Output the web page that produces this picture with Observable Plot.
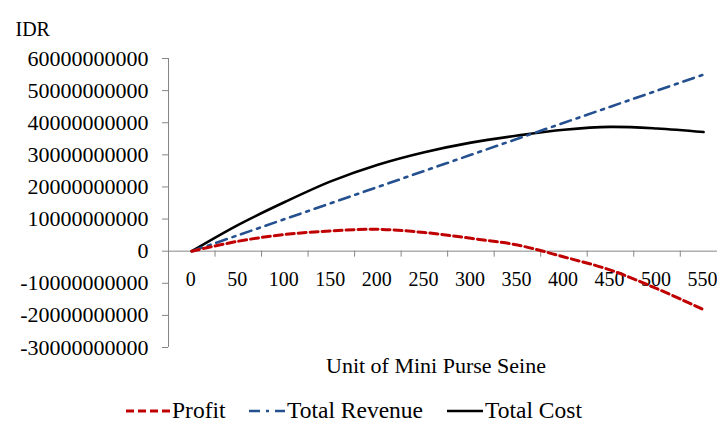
<!DOCTYPE html>
<html>
<head>
<meta charset="utf-8">
<script src="https://cdn.jsdelivr.net/npm/d3@7"></script>
<script src="https://cdn.jsdelivr.net/npm/@observablehq/plot@0.6"></script>
<style>
  html, body { margin: 0; padding: 0; background: #fff; overflow: hidden; }
  body { width: 717px; height: 430px; font-family: "Liberation Serif", "Times New Roman", serif; }
  #legend { position: relative; height: 40px; font-size: 23.5px; color: #000; }
  .item { position: absolute; top: 7px; display: flex; align-items: center; white-space: nowrap; }
  .item svg { display: block; margin-right: 2px; }
</style>
</head>
<body>
<div id="chart"></div>
<div id="legend"></div>
<script>
// Categories (Unit of Mini Purse Seine)
const units = [0, 50, 100, 150, 200, 250, 300, 350, 400, 450, 500, 550];
// Series values (IDR)
const profit = [0, 3.1e9, 5.2e9, 6.3e9, 6.8e9, 5.8e9, 4.0e9, 1.9e9, -1.8e9, -5.9e9, -11.7e9, -18.2e9];
const totalRevenue = [0, 5e9, 10e9, 15e9, 20e9, 25e9, 30e9, 35e9, 40e9, 45e9, 50e9, 55e9];
const totalCost = [0, 8.2e9, 15.3e9, 21.8e9, 26.9e9, 30.8e9, 33.8e9, 36.0e9, 37.8e9, 38.7e9, 38.2e9, 37.1e9];
// Tick labels
const yTicks = [-30e9, -20e9, -10e9, 0, 10e9, 20e9, 30e9, 40e9, 50e9, 60e9];
const xBoundaries = [-25, 25, 75, 125, 175, 225, 275, 325, 375, 425, 475, 525];
const seriesNames = ["Profit", "Total Revenue", "Total Cost"];

const rows = (vals) => units.map((u, i) => ({unit: u, value: vals[i]}));
const gray = "#868686";
const red = "#C00000";
const blue = "#24508F";

const chart = Plot.plot({
  width: 717,
  height: 390,
  marginLeft: 168,
  marginRight: 0,
  marginTop: 58,
  marginBottom: 43,
  style: {fontFamily: "'Liberation Serif', 'Times New Roman', serif", fontSize: "22px", color: "#000", background: "#fff", overflow: "visible"},
  x: {domain: [-25, 565], axis: null},
  y: {domain: [-30e9, 60e9], axis: null},
  marks: [
    Plot.axisY({ticks: yTicks, tickFormat: d => String(d), tickSize: 6, tickPadding: 14, stroke: gray, fill: "#000", label: null, fontSize: 22}),
    Plot.ruleX([-25], {y1: -30e9, y2: 60e9, stroke: gray}),
    Plot.ruleY([0], {x1: -25, x2: 565, stroke: gray}),
    Plot.ruleX(xBoundaries, {y1: 0, y2: 0, insetBottom: -6, stroke: gray}),
    Plot.text(units, {x: d => d, y: 0, dy: 28, dx: -1, text: d => String(d), fontSize: 20, fill: "#000"}),
    Plot.text(["IDR"], {frameAnchor: "top-left", dx: -153, dy: -37, textAnchor: "start", fontSize: 20, fill: "#000"}),
    Plot.text(["Unit of Mini Purse Seine"], {frameAnchor: "bottom", dx: -7, dy: 25, fontSize: 22, fill: "#000"}),
    Plot.line(rows(totalCost), {x: "unit", y: "value", stroke: "#000", strokeWidth: 2.6, curve: "catmull-rom"}),
    Plot.line(rows(totalRevenue), {x: "unit", y: "value", stroke: blue, strokeWidth: 2.6, strokeDasharray: "11 6 3 6", curve: "catmull-rom"}),
    Plot.line(rows(profit), {x: "unit", y: "value", stroke: red, strokeWidth: 3, strokeDasharray: "8 4", curve: "catmull-rom"})
  ]
});
document.getElementById("chart").appendChild(chart);

// Legend
const legendSpecs = [
  {name: seriesNames[0], color: red, dash: "8 4", width: 3, left: 126, len: 44},
  {name: seriesNames[1], color: blue, dash: "11 6 3 6", width: 2.6, left: 249, len: 36},
  {name: seriesNames[2], color: "#000", dash: null, width: 2.6, left: 447, len: 36}
];
const legend = document.getElementById("legend");
for (const s of legendSpecs) {
  const item = document.createElement("div");
  item.className = "item";
  item.style.left = s.left + "px";
  item.innerHTML = `<svg width="${s.len}" height="12"><line x1="0" y1="6" x2="${s.len}" y2="6" stroke="${s.color}" stroke-width="${s.width}" ${s.dash ? `stroke-dasharray="${s.dash}"` : ""}/></svg><span>${s.name}</span>`;
  legend.appendChild(item);
}
</script>
</body>
</html>
